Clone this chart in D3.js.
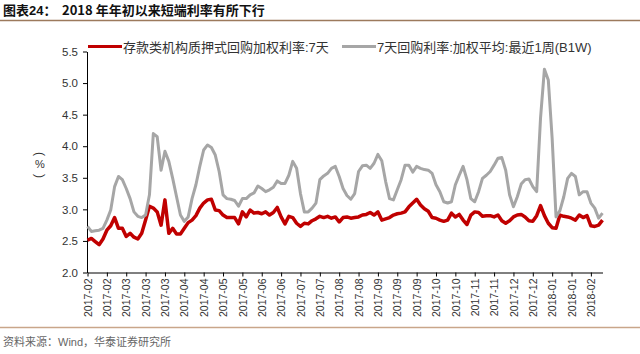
<!DOCTYPE html>
<html>
<head>
<meta charset="utf-8">
<script src="https://cdn.jsdelivr.net/npm/d3@7"></script>
<style>
  body { margin: 0; background: #fff; }
  svg { display: block; font-family: "Liberation Sans", "Noto Sans CJK SC", sans-serif; }
</style>
</head>
<body>
<div id="chart"></div>
<script>
const W = 640, H = 354;
const MARGIN = { top: 51.5, left: 87, right: 602.5, bottom: 272.5 };

// x tick labels, one every 5 samples
const xLabels = ["2017-02", "2017-02", "2017-03", "2017-03", "2017-03", "2017-04", "2017-04",
  "2017-05", "2017-05", "2017-06", "2017-06", "2017-07", "2017-07", "2017-08", "2017-08",
  "2017-09", "2017-09", "2017-09", "2017-10", "2017-10", "2017-11", "2017-11", "2017-12",
  "2017-12", "2018-01", "2018-01", "2018-02"];
const yTicks = [2.0, 2.5, 3.0, 3.5, 4.0, 4.5, 5.0, 5.5];

const seriesNames = ["存款类机构质押式回购加权利率:7天", "7天回购利率:加权平均:最近1周(B1W)"];

// 存款类机构质押式回购加权利率:7天
const redVals = [2.51, 2.54, 2.49, 2.44, 2.53, 2.67, 2.74, 2.87, 2.70, 2.70,
  2.57, 2.62, 2.56, 2.53, 2.62, 2.83, 3.05, 3.02, 2.96, 2.75,
  3.15, 2.62, 2.70, 2.61, 2.61, 2.70, 2.79, 2.83, 2.90, 3.02,
  3.10, 3.15, 3.16, 2.99, 2.98, 2.91, 2.87, 2.87, 2.87, 2.77,
  2.96, 2.88, 2.99, 2.94, 2.95, 2.93, 2.96, 2.91, 2.95, 3.03,
  2.88, 2.77, 2.89, 2.87, 2.78, 2.73, 2.78, 2.77, 2.82, 2.85,
  2.89, 2.87, 2.89, 2.86, 2.88, 2.80, 2.87, 2.88, 2.86, 2.87,
  2.88, 2.91, 2.92, 2.95, 2.91, 2.96, 2.83, 2.85, 2.87, 2.91,
  2.93, 2.94, 2.96, 3.04, 3.10, 3.16, 3.07, 3.01, 2.97, 2.87,
  2.86, 2.83, 2.81, 2.83, 2.94, 2.88, 2.92, 2.83, 2.76, 2.91,
  2.96, 2.95, 2.89, 2.90, 2.90, 2.88, 2.91, 2.82, 2.78, 2.82,
  2.88, 2.91, 2.92, 2.88, 2.82, 2.81, 2.90, 3.06, 2.90, 2.78,
  2.71, 2.70, 2.91, 2.89, 2.88, 2.86, 2.83, 2.91, 2.87, 2.90,
  2.74, 2.73, 2.75, 2.83];

// 7天回购利率:加权平均:最近1周(B1W)
const grayVals = [2.73, 2.65, 2.66, 2.67, 2.70, 2.83, 2.99, 3.36, 3.52, 3.47,
  3.33, 3.17, 2.96, 2.89, 2.87, 2.91, 3.23, 4.20, 4.15, 3.62,
  3.92, 3.76, 3.49, 3.20, 2.91, 2.81, 2.88, 3.17, 3.39, 3.68,
  3.94, 4.02, 3.98, 3.86, 3.60, 3.23, 3.17, 3.16, 3.14, 3.05,
  3.17, 3.17, 3.23, 3.26, 3.37, 3.33, 3.28, 3.31, 3.35, 3.45,
  3.41, 3.41, 3.54, 3.76, 3.65, 3.25, 2.96, 2.96, 3.02, 3.10,
  3.47, 3.53, 3.57, 3.65, 3.68, 3.52, 3.33, 3.22, 3.16, 3.25,
  3.60, 3.69, 3.70, 3.65, 3.73, 3.87, 3.77, 3.44, 3.17, 3.15,
  3.31, 3.47, 3.70, 3.70, 3.59, 3.68, 3.65, 3.63, 3.62, 3.57,
  3.39, 3.28, 3.12, 3.10, 3.12, 3.39, 3.54, 3.68, 3.47, 3.17,
  3.12, 3.28, 3.49, 3.54, 3.60, 3.70, 3.81, 3.82, 3.62, 3.23,
  3.04, 3.20, 3.40, 3.47, 3.48, 3.36, 3.28, 4.45, 5.22, 5.05,
  4.12, 2.88, 2.98, 3.20, 3.49, 3.57, 3.52, 3.23, 3.28, 3.28,
  3.10, 3.02, 2.86, 2.94];

const colorRed = "#C00000", colorGray = "#A6A6A6";

const svg = d3.select("#chart").append("svg")
  .attr("width", W).attr("height", H);

// title + rules
svg.append("text").attr("x", 3).attr("y", 15)
  .attr("font-size", 13).attr("font-weight", "bold").attr("fill", "#111")
  .text("图表24：");
svg.append("text").attr("x", 62).attr("y", 15)
  .attr("font-size", 13).attr("font-weight", "bold").attr("fill", "#111")
  .attr("font-family", "Noto Sans CJK SC")
  .text("2018 年年初以来短端利率有所下行");
svg.append("line").attr("x1", 0).attr("x2", W).attr("y1", 20.5).attr("y2", 20.5)
  .attr("stroke", "#9C7A5C").attr("stroke-width", 1.5);
svg.append("line").attr("x1", 0).attr("x2", W).attr("y1", 327.5).attr("y2", 327.5)
  .attr("stroke", "#C9A68A").attr("stroke-width", 1.5);
svg.append("text").attr("x", 3).attr("y", 346)
  .attr("font-size", 11).attr("fill", "#666")
  .text("资料来源：Wind，华泰证券研究所");

// scales
const x = d3.scaleLinear().domain([0, redVals.length - 1]).range([MARGIN.left + 0.5, MARGIN.right]);
const y = d3.scaleLinear().domain([2.0, 5.5]).range([MARGIN.bottom, MARGIN.top]);

// axes
const yAxisG = svg.append("g")
  .attr("transform", "translate(" + MARGIN.left + ",0)")
  .call(d3.axisLeft(y).tickValues(yTicks).tickFormat(d3.format(".1f")).tickSize(4).tickSizeOuter(0));
yAxisG.selectAll("text").attr("font-size", 11.5).attr("fill", "#333").attr("dx", "-2");

const xAxisG = svg.append("g")
  .attr("transform", "translate(0," + MARGIN.bottom + ")")
  .call(d3.axisBottom(x)
    .tickValues(d3.range(xLabels.length).map(i => i * 5))
    .tickFormat(d => xLabels[d / 5])
    .tickSize(4).tickSizeOuter(0));
xAxisG.selectAll("text")
  .attr("font-size", 10.5).attr("fill", "#333")
  .attr("transform", "rotate(-90)")
  .attr("text-anchor", "end")
  .attr("x", -6).attr("y", 0).attr("dy", "0.35em");
svg.selectAll(".domain").attr("stroke", "#000");

// y axis unit
const unitX = 40;
svg.append("text").attr("transform", "translate(" + unitX + ",154) rotate(90)")
  .attr("text-anchor", "middle").attr("dy", "0.35em").attr("font-size", 12).attr("fill", "#333").text("(");
svg.append("text").attr("x", unitX).attr("y", 164).attr("text-anchor", "middle")
  .attr("dy", "0.35em").attr("font-size", 11).attr("fill", "#333").text("%");
svg.append("text").attr("transform", "translate(" + unitX + ",176) rotate(90)")
  .attr("text-anchor", "middle").attr("dy", "0.35em").attr("font-size", 12).attr("fill", "#333").text(")");

// lines
const lineGen = d3.line().x((d, i) => x(i)).y(d => y(d));
svg.append("path").datum(redVals).attr("d", lineGen)
  .attr("fill", "none").attr("stroke", colorRed).attr("stroke-width", 3.5).attr("stroke-linejoin", "round");
svg.append("path").datum(grayVals).attr("d", lineGen)
  .attr("fill", "none").attr("stroke", colorGray).attr("stroke-width", 3).attr("stroke-linejoin", "round");

// legend
const legend = [
  { name: seriesNames[0], color: colorRed, x: 88 },
  { name: seriesNames[1], color: colorGray, x: 342 }
];
legend.forEach(l => {
  svg.append("line").attr("x1", l.x).attr("x2", l.x + 34).attr("y1", 46.5).attr("y2", 46.5)
    .attr("stroke", l.color).attr("stroke-width", 3);
  svg.append("text").attr("x", l.x + 35).attr("y", 47).attr("dy", "0.35em")
    .attr("font-size", 13).attr("fill", "#333").text(l.name);
});
</script>
</body>
</html>
